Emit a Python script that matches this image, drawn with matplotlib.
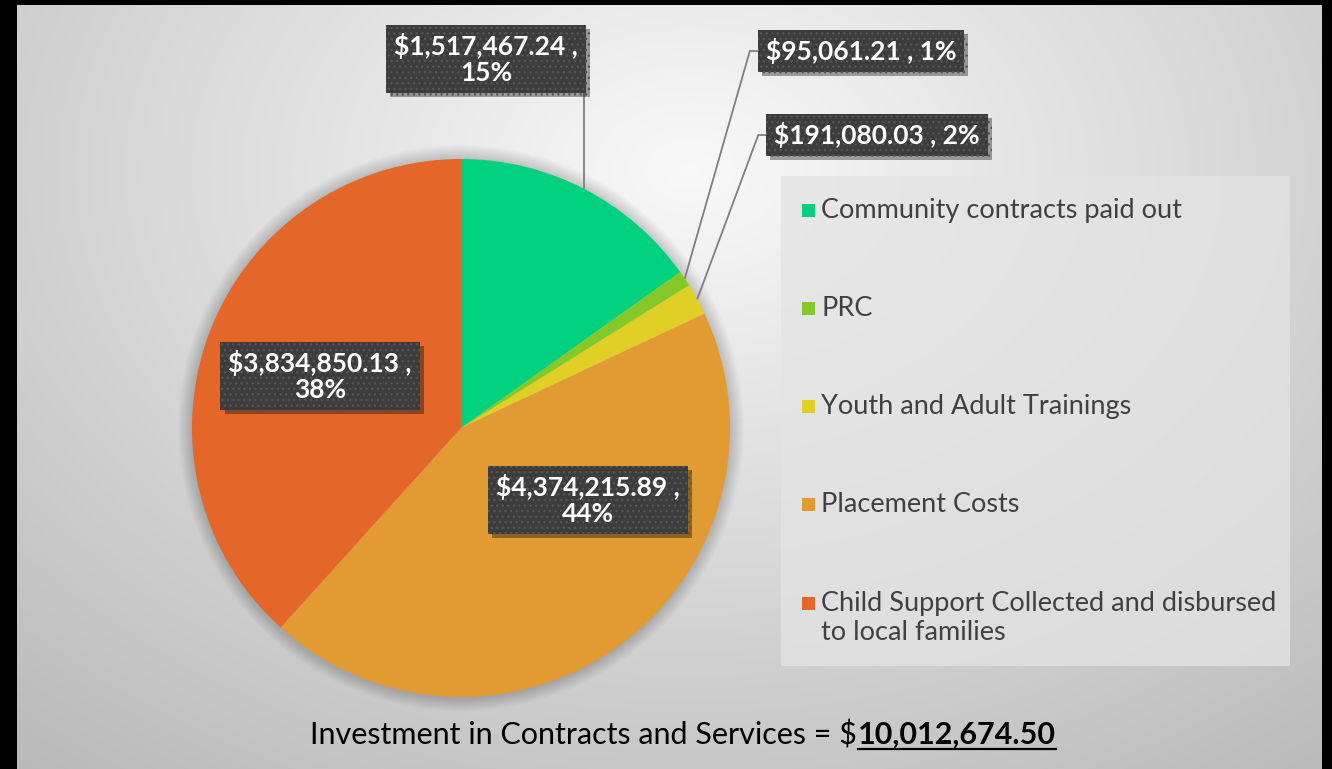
import numpy as np
import matplotlib.pyplot as plt
from matplotlib.patches import Rectangle, Circle
import matplotlib.patheffects as pe

plt.rcParams['font.family'] = ['Lato', 'DejaVu Sans']

categories = ['Community contracts paid out', 'PRC', 'Youth and Adult Trainings',
              'Placement Costs', 'Child Support Collected and disbursed\nto local families']
amounts = [1517467.24, 95061.21, 191080.03, 4374215.89, 3834850.13]
percents = ['15%', '1%', '2%', '44%', '38%']
colors = ['#00d17f', '#84c928', '#e0cf24', '#e29a33', '#e46628']
total_label = '10,012,674.50'
title_text = 'Investment in Contracts and Services = $'

W, H = 1332, 769
# layout in pixels (x from left, y from top)
CX, CY, R = 461, 428, 269
label_pos = [(486, 59), (861, 51), (877, 135), (588, 500), (320, 376)]
label_wrap = [True, False, False, True, True]
leader = ['vertical', 'elbow', 'elbow', None, None]

fig = plt.figure(figsize=(W / 100, H / 100), dpi=100)
fig.patch.set_facecolor('black')
ax = fig.add_axes([0, 0, 1, 1])

# background radial gradient
gx0, gx1, gy0, gy1 = 17, 1322, 5, 769
xx, yy = np.meshgrid(np.arange(gx0, gx1), np.arange(gy0, gy1))
t = np.sqrt(((xx - 690) / 900.0) ** 2 + ((yy - 170) / 650.0) ** 2)
v = np.clip(0.975 - 0.21 * t, 0, 1)
ax.imshow(np.dstack([v, v, v]), extent=(gx0, gx1, H - gy1, H - gy0), origin='upper',
          interpolation='bilinear', zorder=0)

# soft shadow around the pie
for k in range(14):
    ax.add_patch(Circle((CX, H - CY), R + 14 - k, color='black', alpha=0.012, lw=0, zorder=1))

wedges, _ = ax.pie(amounts, colors=colors, startangle=90, counterclock=False,
                   center=(CX, H - CY), radius=R, wedgeprops=dict(linewidth=0, zorder=2))

ax.set_xlim(0, W)
ax.set_ylim(0, H)
ax.set_aspect('auto')
ax.axis('off')

total = sum(amounts)
cum = 0.0
labels = []
for i, a in enumerate(amounts):
    frac = a / total
    ang = np.deg2rad(90 - 360 * (cum + frac / 2))
    cum += frac
    sep = '\n' if label_wrap[i] else ' '
    txt = '${:,.2f} ,{}{}'.format(a, sep, percents[i])
    px, py = label_pos[i]
    tx = ax.text(px, H - py, txt, ha='center', va='center', color='white',
                 fontsize=19, fontweight='bold', linespacing=1.1, zorder=5,
                 bbox=dict(boxstyle='square,pad=0.3', facecolor='#3c3c3c',
                           edgecolor='#555555', hatch='...', linewidth=0))
    tx.get_bbox_patch().set_path_effects([
        pe.SimplePatchShadow(offset=(3, -3), shadow_rgbFace='black', alpha=0.35), pe.Normal()])
    labels.append((tx, ang))

fig.canvas.draw()
renderer = fig.canvas.get_renderer()
inv = ax.transData.inverted()
for (tx, ang), kind in zip(labels, leader):
    if kind is None:
        continue
    ex, ey = CX + R * np.cos(ang), H - CY + R * np.sin(ang)
    bb = tx.get_bbox_patch().get_window_extent(renderer).transformed(inv)
    if kind == 'vertical':
        xs, ys = [ex, ex], [ey, bb.y0]
    else:
        ymid = (bb.y0 + bb.y1) / 2
        xs, ys = [ex, bb.x0 - 8, bb.x0], [ey, ymid, ymid]
    ax.plot(xs, ys, color='#7f7f7f', lw=1.3, zorder=4, solid_capstyle='butt')

# legend box
ax.add_patch(Rectangle((781, H - 666), 509, 490, facecolor='#e4e4e4', alpha=0.75,
                       lw=0, zorder=3))
entry_y = [210, 308, 406, 504, 603]
for c, lab, ey in zip(colors, categories, entry_y):
    ax.add_patch(Rectangle((802, H - ey - 6.5), 13, 13, facecolor=c, lw=0, zorder=4))
    for j, line in enumerate(lab.split('\n')):
        ax.text(821, H - ey - 8 - 29 * j, line, ha='left', va='baseline', fontsize=19.5,
                color='#404040', zorder=4)

# bottom title
t1 = ax.text(857, H - 744, title_text, ha='right', va='baseline', fontsize=22,
             color='black', zorder=4)
t2 = ax.text(858, H - 744, total_label, ha='left', va='baseline', fontsize=22,
             fontweight='bold', color='black', zorder=4)
fig.canvas.draw()
b2 = t2.get_window_extent(renderer).transformed(inv)
ax.plot([b2.x0, b2.x1], [H - 749, H - 749], color='black', lw=1.6, zorder=4)

fig.savefig('out.png', dpi=100, facecolor='black')
